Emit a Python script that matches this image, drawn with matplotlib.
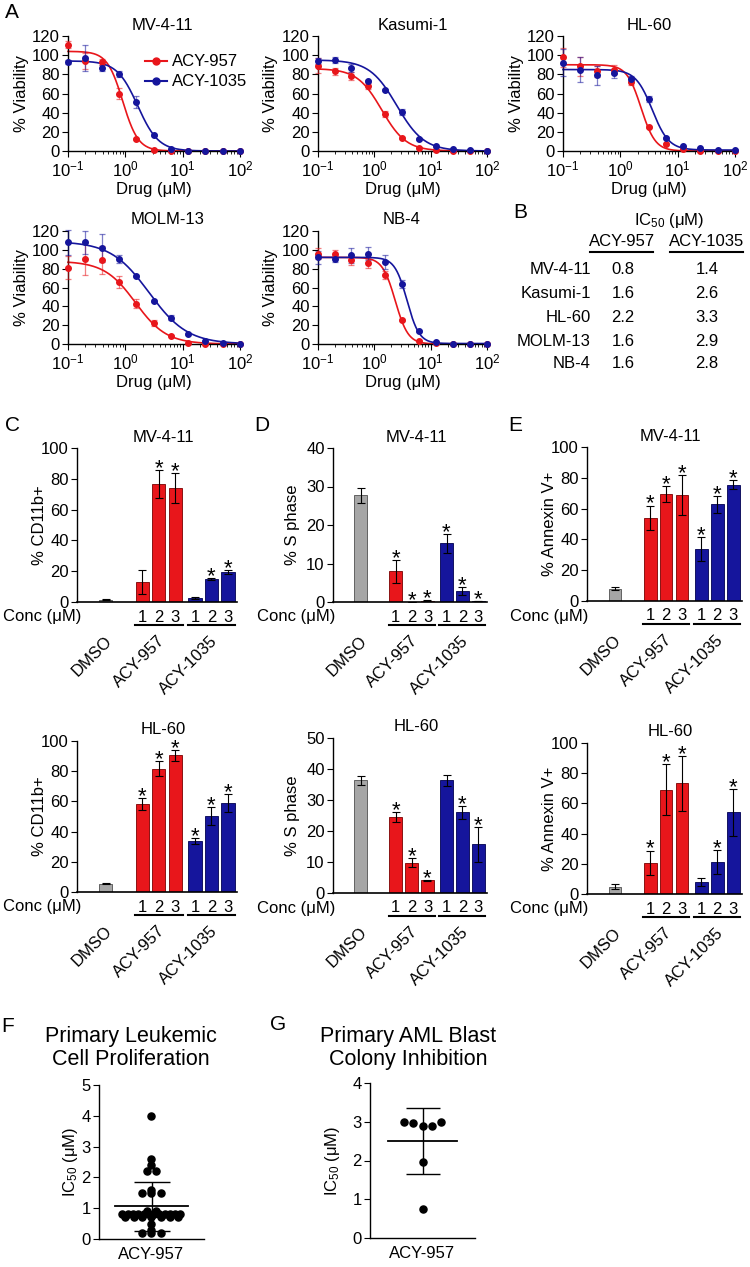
import numpy as np
import matplotlib
matplotlib.use("Agg")
import matplotlib.pyplot as plt
import matplotlib.transforms as mtransforms
from matplotlib.lines import Line2D

plt.rcParams["font.family"] = ["Liberation Sans", "DejaVu Sans"]
plt.rcParams["font.size"] = 12
plt.rcParams["mathtext.fontset"] = "custom"
plt.rcParams["mathtext.rm"] = "Liberation Sans"
plt.rcParams["mathtext.it"] = "Liberation Sans:italic"
plt.rcParams["mathtext.default"] = "regular"
plt.rcParams["axes.unicode_minus"] = False
plt.rcParams["axes.linewidth"] = 1.0
plt.rcParams["xtick.major.size"] = 4
plt.rcParams["ytick.major.size"] = 4
plt.rcParams["xtick.minor.size"] = 2.5
plt.rcParams["xtick.major.pad"] = 2
plt.rcParams["ytick.major.pad"] = 2

RED = "#e8161b"
BLUE = "#15159c"
GRAY = "#a6a6a6"

# ---------------- panel A : dose response ----------------
conc = [0.1, 0.2, 0.39, 0.78, 1.56, 3.125, 6.25, 12.5, 25, 50, 100]
cell_lines = ["MV-4-11", "Kasumi-1", "HL-60", "MOLM-13", "NB-4"]

mv_957 = [111, 94, 93, 60, 13, 1, 0, 0, 0, 0, 0]
mv_957_err = [4, 8, 3, 6, 1, 0.5, 0, 0, 0, 0, 0]
mv_1035 = [93, 97, 87, 80, 51, 17, 2, 0.5, 0.3, 0.2, 0.2]
mv_1035_err = [2, 14, 3, 3, 6, 1, 0.5, 0, 0, 0, 0]

kas_957 = [89, 83, 78.5, 68, 39, 14, 3.5, 1, 0.3, 0.2, 0.1]
kas_957_err = [8, 4, 4, 3, 3, 1, 0.5, 0, 0, 0, 0]
kas_1035 = [94, 95, 86.5, 73, 64, 41, 13, 5, 2.5, 1, 0.5]
kas_1035_err = [3, 3, 4, 1, 1, 3, 1, 0.5, 0, 0, 0]

hl_957 = [98, 88.5, 83, 85, 72, 25, 7, 2, 0.5, 0.2, 0.1]
hl_957_err = [10, 10, 6, 5, 3, 1, 1, 0, 0, 0, 0]
hl_1035 = [92, 85, 79, 81, 75, 54, 14, 5, 3, 1.5, 1]
hl_1035_err = [14, 13, 10, 5, 3, 3, 1, 0.5, 0, 0, 0]

molm_957 = [81, 90, 89, 66, 43, 22.6, 9, 1, 0.3, 0.2, 0.1]
molm_957_err = [12, 17, 15, 6, 5, 3, 1, 0, 0, 0, 0]
molm_1035 = [108, 108, 101.6, 90, 72, 45.7, 28, 11, 3, 1, 0.5]
molm_1035_err = [13, 12, 15, 4, 1, 1, 3, 1, 0, 0, 0]

nb_957 = [96, 95.6, 89, 85.6, 73, 25.5, 3.5, 1, 0.3, 0.2, 0.1]
nb_957_err = [6, 4, 5, 5, 4, 1, 0.5, 0, 0, 0, 0]
nb_1035 = [92, 90, 94, 96, 87, 64, 14, 2, 0.5, 0.5, 0.5]
nb_1035_err = [7, 3, 8, 7, 7, 4, 1, 0.5, 0, 0, 0]

# four parameter fits: top, bottom, IC50, slope
fit_957 = [(104, 0, 0.9, 3.2), (86, 0, 1.35, 2.0), (90, 0, 2.3, 3.5), (88, 0, 1.5, 1.6), (92, 0, 2.35, 3.8)]
fit_1035 = [(94, 0, 1.65, 2.4), (95, 0, 2.5, 1.8), (85, 1, 3.6, 3.0), (109, 0, 2.6, 1.3), (92, 0.5, 3.8, 4.0)]

vals_957 = [mv_957, kas_957, hl_957, molm_957, nb_957]
errs_957 = [mv_957_err, kas_957_err, hl_957_err, molm_957_err, nb_957_err]
vals_1035 = [mv_1035, kas_1035, hl_1035, molm_1035, nb_1035]
errs_1035 = [mv_1035_err, kas_1035_err, hl_1035_err, molm_1035_err, nb_1035_err]

# ---------------- panel B : IC50 table ----------------
ic50_957 = [0.8, 1.6, 2.2, 1.6, 1.6]
ic50_1035 = [1.4, 2.6, 3.3, 2.9, 2.8]

# ---------------- panels C-E : bars ----------------
bar_groups = ["DMSO", "ACY-957", "ACY-1035"]
conc_labels = ["1", "2", "3"]

cd11b_mv = [1.5, 13, 76.5, 74, 2.5, 15, 19.5]
cd11b_mv_err = [0.5, 8, 9, 9.5, 0.8, 0.5, 1.5]
cd11b_mv_sig = [0, 0, 1, 1, 0, 1, 1]
cd11b_hl = [5.5, 58, 81.5, 90.5, 34, 50.5, 59]
cd11b_hl_err = [0.5, 4, 5, 3.5, 2, 6, 6]
cd11b_hl_sig = [0, 1, 1, 1, 1, 1, 1]

sphase_mv = [27.7, 8, 0.1, 0.3, 15.2, 2.8, 0.2]
sphase_mv_err = [2, 3, 0, 0.1, 2.5, 1, 0.05]
sphase_mv_sig = [0, 1, 1, 1, 1, 1, 1]
sphase_hl = [36.3, 24.5, 9.8, 4.1, 36.3, 26, 15.7]
sphase_hl_err = [1.5, 1.7, 1.5, 0.2, 1.8, 2, 5.7]
sphase_hl_sig = [0, 1, 1, 1, 0, 1, 1]

annexin_mv = [8, 54.2, 69.6, 68.8, 33.6, 62.7, 75.5]
annexin_mv_err = [0.8, 7.8, 5, 13, 7.8, 5.4, 3]
annexin_mv_sig = [0, 1, 1, 1, 1, 1, 1]
annexin_hl = [4.9, 20.8, 69, 73.2, 8, 21.2, 54]
annexin_hl_err = [1.5, 8, 17, 18.4, 2.4, 8.2, 15.7]
annexin_hl_sig = [0, 1, 1, 1, 0, 1, 1]

# ---------------- panels F, G : primary cells ----------------
prolif_ic50 = [4.0, 2.6, 2.4, 2.2, 2.2, 1.6, 1.5, 1.5, 1.5, 0.9, 0.9,
               0.8, 0.8, 0.8, 0.8, 0.8, 0.8, 0.8, 0.8, 0.8, 0.8, 0.8, 0.8,
               0.7, 0.7, 0.7, 0.7, 0.7, 0.7, 0.7, 0.5, 0.3, 0.2, 0.2, 0.2]
colony_ic50 = [3.0, 2.98, 2.9, 2.9, 3.0, 1.95, 0.75]


W, H = 750, 1267
fig = plt.figure(figsize=(W / 100, H / 100), dpi=100)


def add_ax(l, t, r, b):
    return fig.add_axes([l / W, 1 - b / H, (r - l) / W, (b - t) / H])


def ftext(x, y, s, **kw):
    # text placed in pixel coordinates (from top-left)
    return fig.text(x / W, 1 - y / H, s, **kw)


def clean(ax):
    ax.spines["top"].set_visible(False)
    ax.spines["right"].set_visible(False)


def hill(x, top, bottom, ec50, slope):
    return bottom + (top - bottom) / (1 + (np.asarray(x) / ec50) ** slope)


# ---------- A ----------
a_boxes = [(68, 36, 240, 151), (318, 36, 487, 151), (563, 36, 735, 151),
           (68, 231, 240, 344), (318, 231, 487, 344)]
a_title_x = [162, 413, 649, 168, 402]
a_ylab_x = [22, 270, 517, 22, 270]
xs = np.logspace(-1, 2, 300)

for i, name in enumerate(cell_lines):
    l, t, r, b = a_boxes[i]
    ax = add_ax(l, t, r, b)
    clean(ax)
    for vals, errs, fit, col in [(vals_957[i], errs_957[i], fit_957[i], RED),
                                 (vals_1035[i], errs_1035[i], fit_1035[i], BLUE)]:
        ax.plot(xs, hill(xs, *fit), color=col, lw=1.2, clip_on=False, zorder=2)
        ax.errorbar(conc, vals, yerr=errs, fmt="none", ecolor=col, alpha=0.55,
                    elinewidth=0.9, capsize=2.5, capthick=0.9, clip_on=False, zorder=3)
        ax.plot(conc, vals, "o", color=col, ms=4, mec=col, clip_on=False, zorder=4)
    ax.set_xscale("log")
    ax.set_xlim(0.1, 100)
    ax.set_ylim(0, 120)
    ax.set_yticks(range(0, 121, 20))
    ax.set_xlabel("Drug (\u03bcM)", labelpad=2)
    ftext(a_title_x[i], t - 11, name, ha="center", va="center")
    ftext(a_ylab_x[i], (t + b) / 2, "% Viability", rotation=90, ha="center", va="center")
    if i == 0:
        handles = [Line2D([], [], color=RED, marker="o", ms=5, lw=1.5),
                   Line2D([], [], color=BLUE, marker="o", ms=5, lw=1.5)]
        ax.legend(handles, ["ACY-957", "ACY-1035"], loc="upper left",
                  bbox_to_anchor=(0.45, 0.84), frameon=False, borderaxespad=0,
                  handlelength=1.3, handletextpad=0.3, labelspacing=0.3,
                  borderpad=0)

# ---------- B ----------
ftext(669, 220, "IC$_{\\mathregular{50}}$ (\u03bcM)", ha="center", va="center")
ftext(622, 242, "ACY-957", ha="center", va="center")
ftext(707, 242, "ACY-1035", ha="center", va="center")
fig.add_artist(Line2D([590 / W, 653 / W], [1 - 252 / H] * 2, color="black", lw=1.5))
fig.add_artist(Line2D([670 / W, 743 / W], [1 - 252 / H] * 2, color="black", lw=1.5))
row_y = [270, 294, 318, 342, 364]
for k, name in enumerate(cell_lines):
    ftext(591, row_y[k], name, ha="right", va="center")
    ftext(623, row_y[k], f"{ic50_957[k]:.1f}", ha="center", va="center")
    ftext(707, row_y[k], f"{ic50_1035[k]:.1f}", ha="center", va="center")

# ---------- C, D, E ----------
bar_pos = np.array([0, 2.2, 3.2, 4.2, 5.4, 6.4, 7.4])
bar_cols = [GRAY] + [RED] * 3 + [BLUE] * 3
edge_cols = ["#505050"] + ["#7a0000"] * 3 + ["#000050"] * 3


def bar_panel(box, vals, errs, sig, ymax, ystep, ylab, ylab_x, title, conc_x):
    l, t, r, b = box
    ax = add_ax(l, t, r, b)
    clean(ax)
    ax.bar(bar_pos, vals, width=0.8, color=bar_cols, edgecolor=edge_cols, lw=0.6, zorder=2)
    ax.errorbar(bar_pos, vals, yerr=errs, fmt="none", ecolor="black", elinewidth=0.8,
                capsize=3, capthick=0.8, zorder=3)
    for x, v, e, s in zip(bar_pos, vals, errs, sig):
        if s:
            ax.annotate("*", xy=(x, v + e), xytext=(0, -3), textcoords="offset points",
                        ha="center", va="baseline", fontsize=16)
    ax.set_xlim(-1.75, 7.95)
    ax.set_ylim(0, ymax)
    ax.set_yticks(np.arange(0, ymax + 0.1, ystep))
    ax.set_xticks([])
    ax.spines["bottom"].set_linewidth(1.2)
    ftext((l + r) / 2 + 6, t - 11, title, ha="center", va="center")
    ftext(ylab_x, (t + b) / 2, ylab, rotation=90, ha="center", va="center")
    ftext(conc_x, b + 15, "Conc (\u03bcM)", ha="left", va="center")

    base = mtransforms.blended_transform_factory(ax.transData, ax.transAxes)
    for j in range(2):
        idx = [1 + 3 * j, 2 + 3 * j, 3 + 3 * j]
        for n, k in enumerate(idx):
            tr = base + mtransforms.ScaledTranslation(0, -15 / 100, fig.dpi_scale_trans)
            ax.text(bar_pos[k], 0, conc_labels[n], transform=tr, ha="center", va="center")
        tr = base + mtransforms.ScaledTranslation(0, -23 / 100, fig.dpi_scale_trans)
        ax.plot([bar_pos[idx[0]] - 0.45, bar_pos[idx[-1]] + 0.45], [0, 0], color="black",
                lw=1.5, transform=tr, clip_on=False)
    centers = [bar_pos[0], bar_pos[2], bar_pos[5]]
    for name, cx in zip(bar_groups, centers):
        tr = base + mtransforms.ScaledTranslation(9 / 100, -31 / 100, fig.dpi_scale_trans)
        ax.text(cx, 0, name, transform=tr, ha="right", va="top", rotation=45)
    return ax


bar_panel((77, 448, 237, 602), cd11b_mv, cd11b_mv_err, cd11b_mv_sig, 100, 20,
          "% CD11b+", 40, "MV-4-11", 3)
bar_panel((333, 448, 487, 602), sphase_mv, sphase_mv_err, sphase_mv_sig, 40, 10,
          "% S phase", 292, "MV-4-11", 257)
bar_panel((587, 447, 742, 601), annexin_mv, annexin_mv_err, annexin_mv_sig, 100, 20,
          "% Annexin V+", 549, "MV-4-11", 510)
bar_panel((77, 741, 237, 892), cd11b_hl, cd11b_hl_err, cd11b_hl_sig, 100, 20,
          "% CD11b+", 40, "HL-60", 3)
bar_panel((333, 738, 487, 893), sphase_hl, sphase_hl_err, sphase_hl_sig, 50, 10,
          "% S phase", 292, "HL-60", 257)
bar_panel((587, 743, 742, 894), annexin_hl, annexin_hl_err, annexin_hl_sig, 100, 20,
          "% Annexin V+", 549, "HL-60", 510)


# ---------- F, G ----------
def row_spread(ax, values, bin_px, step_px, max_px):
    # points falling in the same pixel band are spread side by side
    y0 = ax.transData.transform((0, 0))[1]
    ypx = [ax.transData.transform((0, v))[1] - y0 for v in values]
    bins = [int(np.floor(y / bin_px)) for y in ypx]
    offs = [0.0] * len(values)
    for bn in set(bins):
        idx = [i for i, bb in enumerate(bins) if bb == bn]
        n = len(idx)
        if n > 1:
            step = min(step_px, max_px / (n - 1))
            for j, i in enumerate(idx):
                offs[i] = (j - (n - 1) / 2) * step
    x0 = ax.transData.transform((0, 0))[0]
    inv = ax.transData.inverted()
    return [inv.transform((x0 + o, 0))[0] for o in offs]


def dot_panel(box, values, ymax, bin_px, step_px, title, title_x, ylab_x, mean_w, cap_w):
    l, t, r, b = box
    ax = add_ax(l, t, r, b)
    clean(ax)
    ax.set_xlim(-1, 1)
    ax.set_ylim(0, ymax)
    ax.set_yticks(range(0, ymax + 1))
    ax.set_xticks([0])
    ax.set_xticklabels(["ACY-957"])
    ax.tick_params(axis="x", length=0, pad=6)
    xs_ = row_spread(ax, values, bin_px, step_px, 58)
    ax.scatter(xs_, values, s=26, color="black", zorder=3, clip_on=False)
    m = np.mean(values)
    sd = np.std(values, ddof=1)
    ax.plot([-mean_w, mean_w], [m, m], color="black", lw=1.3, zorder=2)
    ax.errorbar([0], [m], yerr=[sd], fmt="none", ecolor="black", elinewidth=1.0,
                capsize=cap_w, capthick=1.0, zorder=2)
    ftext(title_x, 1048, title, ha="center", va="center", fontsize=15.5, linespacing=1.15)
    ftext(ylab_x, (t + b) / 2, "IC$_{\\mathregular{50}}$ (\u03bcM)", rotation=90,
          ha="center", va="center")
    return ax


dot_panel((99, 1085, 204, 1239), prolif_ic50, 5, 3, 9, "Primary Leukemic\nCell Proliferation",
          131, 70, 0.69, 13)
dot_panel((370, 1083, 475, 1238), colony_ic50, 4, 12, 9.3, "Primary AML Blast\nColony Inhibition",
          408, 333, 0.65, 12)

# panel letters
for letter, x, y in [("A", 12, 13), ("B", 520, 213), ("C", 12, 425), ("D", 262, 425),
                     ("E", 515, 425), ("F", 8, 1027), ("G", 278, 1025)]:
    ftext(x, y, letter, ha="center", va="center", fontsize=15)

fig.savefig("out.png", dpi=100)
